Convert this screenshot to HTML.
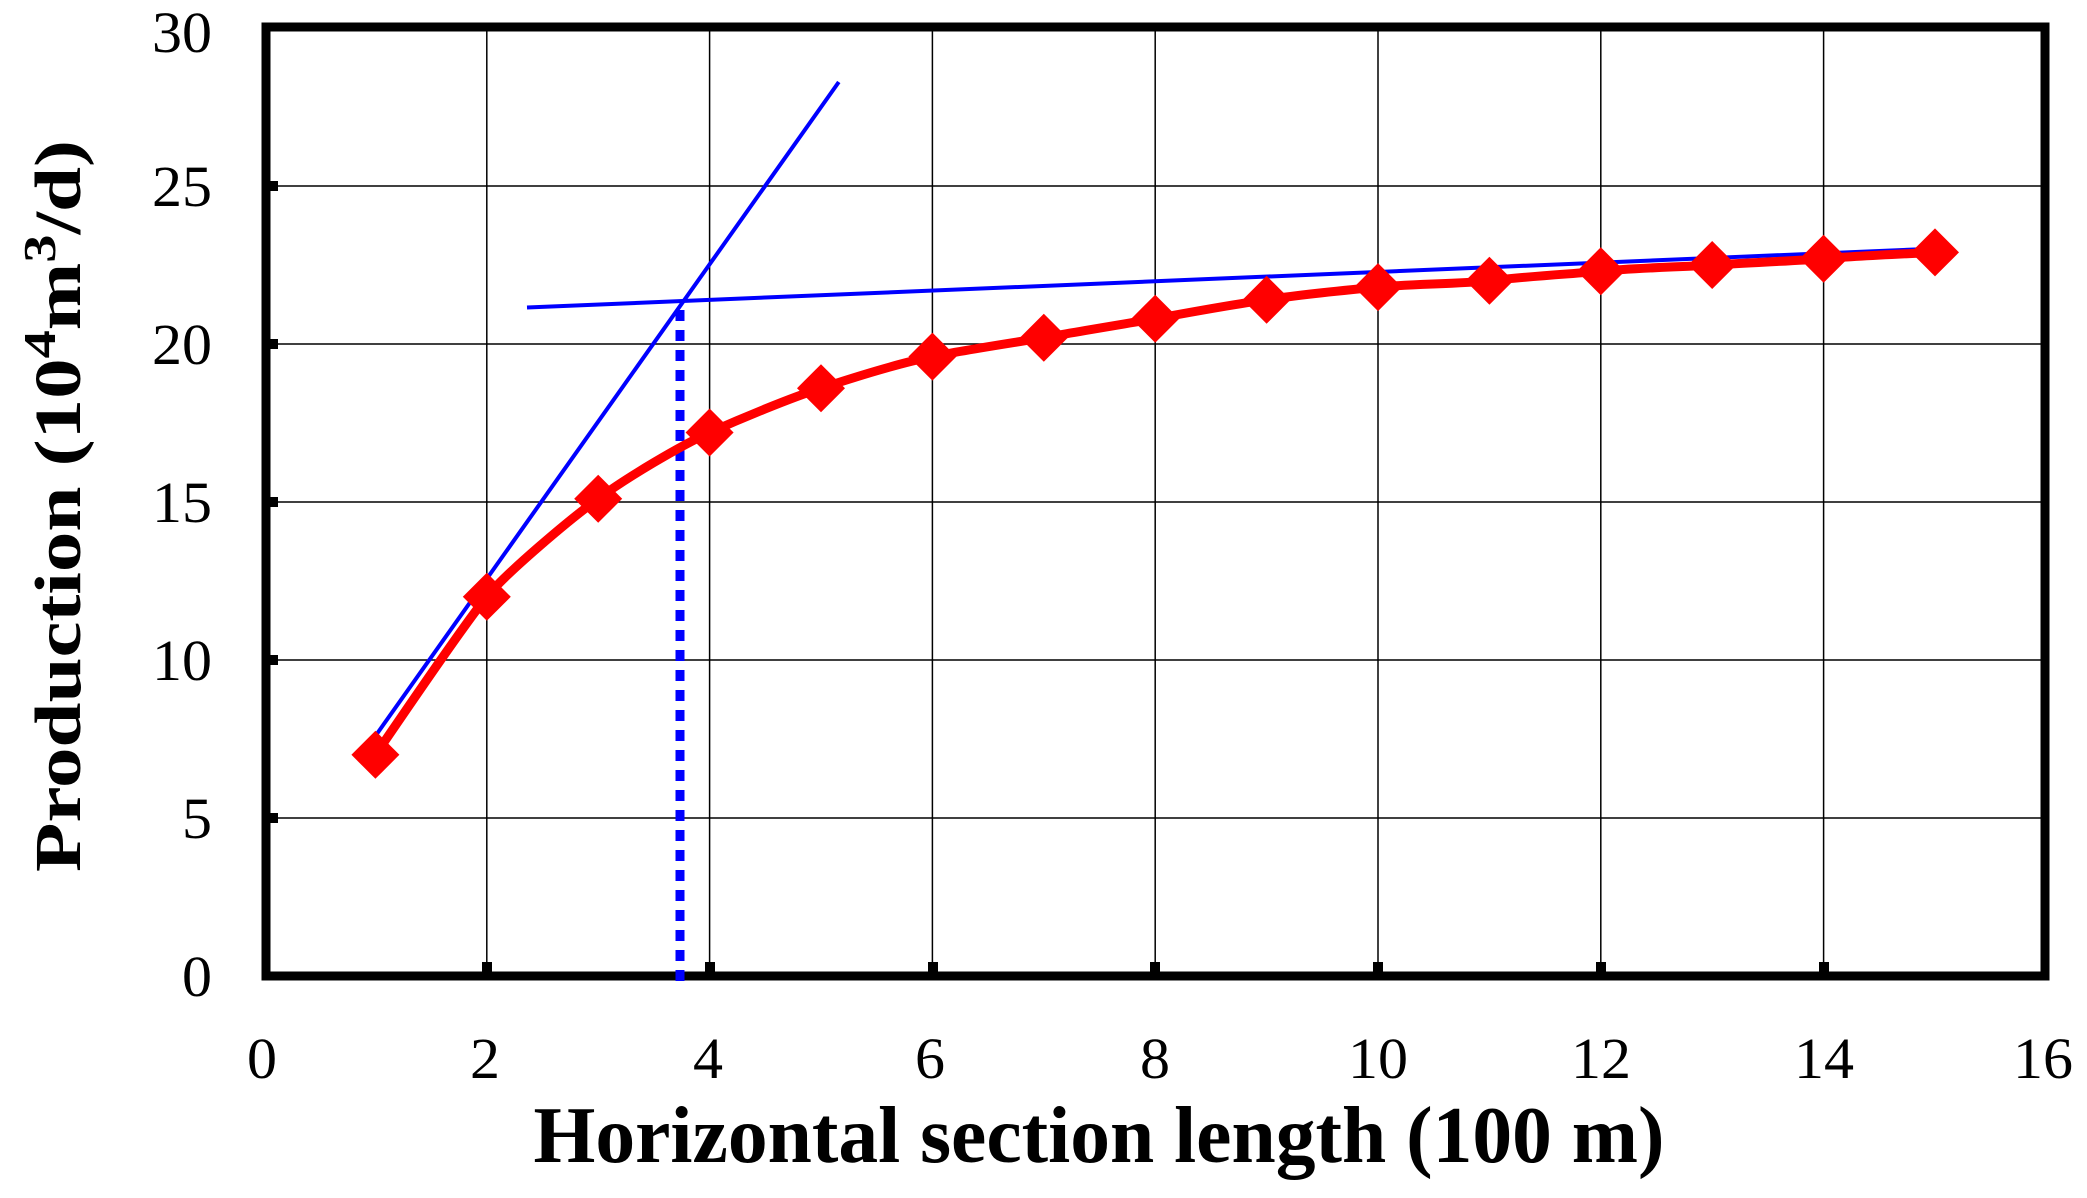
<!DOCTYPE html>
<html><head><meta charset="utf-8"><style>html,body{margin:0;padding:0;background:#fff}svg{display:block}</style></head>
<body>
<svg width="2087" height="1198" viewBox="0 0 2087 1198" xmlns="http://www.w3.org/2000/svg">
<g stroke="#000" stroke-width="1.5">
<line x1="486.8" y1="27" x2="486.8" y2="976"/><line x1="709.6" y1="27" x2="709.6" y2="976"/>
<line x1="932.4" y1="27" x2="932.4" y2="976"/><line x1="1155.2" y1="27" x2="1155.2" y2="976"/>
<line x1="1378" y1="27" x2="1378" y2="976"/><line x1="1600.8" y1="27" x2="1600.8" y2="976"/>
<line x1="1823.6" y1="27" x2="1823.6" y2="976"/>
<line x1="264" y1="186" x2="2045" y2="186"/><line x1="264" y1="344" x2="2045" y2="344"/>
<line x1="264" y1="502" x2="2045" y2="502"/><line x1="264" y1="660" x2="2045" y2="660"/>
<line x1="264" y1="818" x2="2045" y2="818"/>
</g>
<g fill="#000">
<rect x="482" y="962" width="10" height="14"/><rect x="705" y="962" width="10" height="14"/>
<rect x="928" y="962" width="10" height="14"/><rect x="1150" y="962" width="10" height="14"/>
<rect x="1373" y="962" width="10" height="14"/><rect x="1596" y="962" width="10" height="14"/>
<rect x="1819" y="962" width="10" height="14"/>
<rect x="264" y="181" width="14" height="10"/><rect x="264" y="339" width="14" height="10"/>
<rect x="264" y="497" width="14" height="10"/><rect x="264" y="655" width="14" height="10"/>
<rect x="264" y="813" width="14" height="10"/>
</g>
<rect x="266" y="27" width="1779" height="949" fill="none" stroke="#000" stroke-width="9"/>
<line x1="375.4" y1="736" x2="838.8" y2="82" stroke="#00f" stroke-width="4"/>
<line x1="527" y1="307.5" x2="1927" y2="249" stroke="#00f" stroke-width="4"/>
<line x1="680" y1="310" x2="680" y2="985" stroke="#00f" stroke-width="9" stroke-dasharray="11,9"/>
<path fill="none" stroke="#f00" stroke-width="9" stroke-linejoin="round" d="M375.4,754.8 C394,728 464,624 486.8,596.8 C505,574 570,519 598.2,498.8 C626,478 680,446 709.6,432.5 C740,419 790,398 821,388.2 C852,378 900,363 932.4,356.6 C965,350 1012,343 1043.8,337.7 C1075,332 1124,324 1155.2,318.7 C1186,313 1236,304 1266.6,299.8 C1297,295 1347,290 1378,287.1 C1410,284 1458,284 1489.4,280.8 C1520,277 1569,274 1600.8,271.3 C1632,268 1680,267 1712.2,265 C1744,263 1792,261 1823.6,258.7 C1855,256 1903,254 1935,252.4"/>
<g fill="#f00">
<path d="M375.4,730.8l24,24l-24,24l-24,-24z"/><path d="M486.8,572.8l24,24l-24,24l-24,-24z"/>
<path d="M598.2,474.8l24,24l-24,24l-24,-24z"/><path d="M709.6,408.5l24,24l-24,24l-24,-24z"/>
<path d="M821,364.2l24,24l-24,24l-24,-24z"/><path d="M932.4,332.6l24,24l-24,24l-24,-24z"/>
<path d="M1043.8,313.7l24,24l-24,24l-24,-24z"/><path d="M1155.2,294.7l24,24l-24,24l-24,-24z"/>
<path d="M1266.6,275.8l24,24l-24,24l-24,-24z"/><path d="M1378,263.1l24,24l-24,24l-24,-24z"/>
<path d="M1489.4,256.8l24,24l-24,24l-24,-24z"/><path d="M1600.8,247.3l24,24l-24,24l-24,-24z"/>
<path d="M1712.2,241l24,24l-24,24l-24,-24z"/><path d="M1823.6,234.7l24,24l-24,24l-24,-24z"/>
<path d="M1935,228.4l24,24l-24,24l-24,-24z"/>
</g>
<g font-family="Liberation Serif, serif" font-size="58" fill="#000" text-anchor="end">
<text x="212" y="52" textLength="60" lengthAdjust="spacingAndGlyphs">30</text>
<text x="212" y="206" textLength="60" lengthAdjust="spacingAndGlyphs">25</text>
<text x="212" y="364" textLength="60" lengthAdjust="spacingAndGlyphs">20</text>
<text x="212" y="522" textLength="60" lengthAdjust="spacingAndGlyphs">15</text>
<text x="212" y="680" textLength="60" lengthAdjust="spacingAndGlyphs">10</text>
<text x="212" y="838" textLength="30" lengthAdjust="spacingAndGlyphs">5</text>
<text x="212" y="996" textLength="30" lengthAdjust="spacingAndGlyphs">0</text>
</g>
<g font-family="Liberation Serif, serif" font-size="58" fill="#000" text-anchor="middle">
<text x="262" y="1078" textLength="30" lengthAdjust="spacingAndGlyphs">0</text>
<text x="485" y="1078" textLength="30" lengthAdjust="spacingAndGlyphs">2</text>
<text x="708" y="1078" textLength="30" lengthAdjust="spacingAndGlyphs">4</text>
<text x="930" y="1078" textLength="30" lengthAdjust="spacingAndGlyphs">6</text>
<text x="1155" y="1078" textLength="30" lengthAdjust="spacingAndGlyphs">8</text>
<text x="1378" y="1078" textLength="60" lengthAdjust="spacingAndGlyphs">10</text>
<text x="1601" y="1078" textLength="60" lengthAdjust="spacingAndGlyphs">12</text>
<text x="1824" y="1078" textLength="60" lengthAdjust="spacingAndGlyphs">14</text>
<text x="2043" y="1078" textLength="60" lengthAdjust="spacingAndGlyphs">16</text>
</g>
<text x="1099" y="1162" font-family="Liberation Serif, serif" font-weight="bold" font-size="80" text-anchor="middle" textLength="1131" lengthAdjust="spacingAndGlyphs">Horizontal section length (100 m)</text>
<text transform="translate(80,506) rotate(-90)" font-family="Liberation Serif, serif" font-weight="bold" font-size="66" text-anchor="middle" textLength="732" lengthAdjust="spacingAndGlyphs">Production  (10<tspan baseline-shift="super" font-size="46">4</tspan>m<tspan baseline-shift="super" font-size="46">3</tspan>/d)</text>
</svg>
</body></html>
